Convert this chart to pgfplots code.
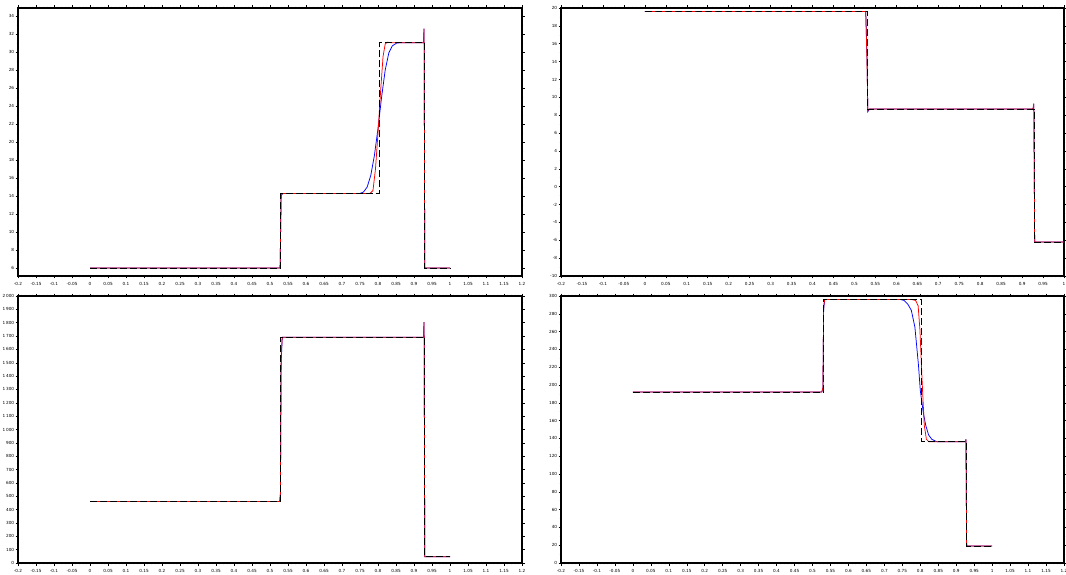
\documentclass[border=0pt]{standalone}
\usepackage{pgfplots}
\pgfplotsset{compat=1.18}
\usepackage{fontspec}
\setmainfont{DejaVu Sans}
\pgfplotsset{
  base/.style={
    scale only axis,
    anchor=south west,
    axis line style={line width=1.1pt},
    tick align=outside,
    tick style={black, line width=0.5pt},
    major tick length=2.5pt,
    minor tick length=1.4pt,
    minor x tick num=4,
    minor y tick num=1,
    tick label style={font=\fontsize{4.2}{5}\selectfont},
    /pgf/number format/assume math mode=true,
    /pgf/number format/1000 sep={\,},
    xticklabel style={/pgf/number format/fixed,/pgf/number format/precision=2},
    yticklabel style={/pgf/number format/fixed, inner xsep=1.2pt},
    xtick={-0.2,-0.15,-0.1,-0.05,0,0.05,0.1,0.15,0.2,0.25,0.3,0.35,0.4,0.45,0.5,0.55,0.6,0.65,0.7,0.75,0.8,0.85,0.9,0.95,1,1.05,1.1,1.15,1.2},
    xmin=-0.2,
    clip=true,
  },
  blu/.style={blue, line width=0.75pt},
  rd/.style={red, line width=0.75pt},
  ex/.style={black, line width=0.75pt, dash pattern=on 7pt off 3pt},
}
\begin{document}
\begin{tikzpicture}
\path[use as bounding box] (0,0) rectangle (1066pt,574pt);
% ---------- panel 1: density ----------
\begin{axis}[base, at={(18pt,298pt)}, width=504pt, height=268pt,
  xmax=1.2, ymin=5.1, ymax=34.9,
  ytick={6,8,10,12,14,16,18,20,22,24,26,28,30,32,34}]
\addplot[blu] coordinates {(0,6) (0.528,6) (0.531,14.0) (0.535,14.28) (0.750,14.28) (0.760,14.45) (0.770,15.0) (0.780,16.3) (0.790,18.5) (0.800,21.5) (0.810,25.0) (0.820,28.0) (0.830,29.9) (0.840,30.7) (0.852,31.0) (0.862,31.04) (0.926,31.04) (0.928,32.6) (0.930,6) (1,6)};
\addplot[rd] coordinates {(0,6) (0.528,6) (0.531,14.0) (0.534,14.28) (0.778,14.28) (0.786,14.6) (0.793,17.0) (0.800,21.0) (0.807,25.5) (0.814,29.5) (0.820,30.9) (0.826,31.1) (0.835,31.04) (0.926,31.04) (0.928,32.6) (0.930,6) (1,6)};
\addplot[ex] coordinates {(0,6) (0.530,6) (0.530,14.28) (0.804,14.28) (0.804,31.04) (0.929,31.04) (0.929,6) (1,6)};
\end{axis}
% ---------- panel 2: velocity ----------
\begin{axis}[base, at={(561pt,298pt)}, width=503pt, height=268pt,
  xmax=1.0, ymin=-10, ymax=20,
  ytick={-10,-8,-6,-4,-2,0,2,4,6,8,10,12,14,16,18,20}]
\addplot[blu] coordinates {(0,19.6) (0.527,19.6) (0.530,14.5) (0.532,8.4) (0.536,8.69) (0.926,8.69) (0.928,9.3) (0.930,-6.2) (1,-6.2)};
\addplot[rd] coordinates {(0,19.6) (0.527,19.6) (0.530,14.0) (0.532,8.5) (0.535,8.69) (0.926,8.69) (0.928,9.3) (0.930,-6.2) (1,-6.2)};
\addplot[ex] coordinates {(0,19.6) (0.530,19.6) (0.530,8.69) (0.929,8.69) (0.929,-6.2) (1,-6.2)};
\end{axis}
% ---------- panel 3: pressure ----------
\begin{axis}[base, at={(18pt,11pt)}, width=504pt, height=267pt,
  xmax=1.2, ymin=0, ymax=2000,
  ytick={0,100,200,300,400,500,600,700,800,900,1000,1100,1200,1300,1400,1500,1600,1700,1800,1900,2000}]
\addplot[blu] coordinates {(0,460.9) (0.527,460.9) (0.529,520) (0.531,1500) (0.534,1691.6) (0.926,1691.6) (0.928,1805) (0.930,46.1) (1,46.1)};
\addplot[rd] coordinates {(0,460.9) (0.527,460.9) (0.529,520) (0.531,1550) (0.534,1691.6) (0.926,1691.6) (0.928,1805) (0.930,46.1) (1,46.1)};
\addplot[ex] coordinates {(0,460.9) (0.530,460.9) (0.530,1691.6) (0.929,1691.6) (0.929,46.1) (1,46.1)};
\end{axis}
% ---------- panel 4: internal energy ----------
\begin{axis}[base, at={(561pt,11pt)}, width=503pt, height=267pt,
  xmax=1.2, ymin=0, ymax=300,
  ytick={0,20,40,60,80,100,120,140,160,180,200,220,240,260,280,300}]
\addplot[blu] coordinates {(0,192.1) (0.526,192.1) (0.529,197) (0.531,285) (0.534,296.1) (0.745,296.1) (0.755,295) (0.765,291) (0.775,284) (0.785,265) (0.795,222) (0.800,194) (0.808,170) (0.815,155) (0.823,144) (0.832,139) (0.845,136.4) (0.860,136.2) (0.926,136.2) (0.927,139) (0.929,19.2) (1,19.2)};
\addplot[rd] coordinates {(0,192.1) (0.526,192.1) (0.529,197) (0.531,288) (0.534,296.1) (0.775,296.1) (0.787,295) (0.794,289) (0.799,262) (0.805,205) (0.811,155) (0.817,139) (0.824,136.2) (0.926,136.2) (0.927,139) (0.929,19.2) (1,19.2)};
\addplot[ex] coordinates {(0,192.1) (0.530,192.1) (0.530,296.1) (0.804,296.1) (0.804,136.2) (0.929,136.2) (0.929,19.2) (1,19.2)};
\end{axis}
\end{tikzpicture}
\end{document}
